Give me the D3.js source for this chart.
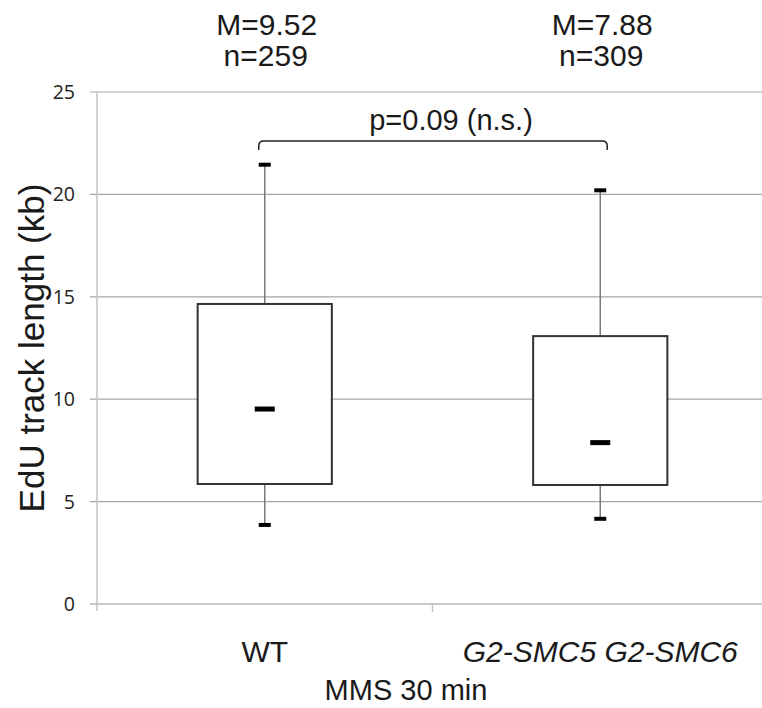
<!DOCTYPE html>
<html>
<head>
<meta charset="utf-8">
<script src="https://cdn.jsdelivr.net/npm/d3@7"></script>
<style>
  body { margin: 0; background: #fff; }
  svg { display: block; }
</style>
</head>
<body>
<div id="chart"></div>
<script>
// chart data
const categories = ['WT', 'G2-SMC5 G2-SMC6'];
const italicCats = [false, true];
const means = [9.52, 7.88];
const counts = [259, 309];
const q1 = [5.86, 5.81];
const q3 = [14.65, 13.08];
const whiskerLow = [3.86, 4.16];
const whiskerHigh = [21.45, 20.2];
const yTicks = [0, 5, 10, 15, 20, 25];
const pLabel = 'p=0.09 (n.s.)';
const xTitle = 'MMS 30 min';
const yTitle = 'EdU track length (kb)';

const width = 762, height = 708;
const margin = {top: 92, right: -6, bottom: 104, left: 97};

let svg = d3.select('#chart').append('svg')
            .attr('width', width)
            .attr('height', height);

let x = d3.scaleBand()
          .domain(categories)
          .range([margin.left, width - margin.right])
          .padding(0);

let y = d3.scaleLinear()
          .domain([0, 25])
          .range([height - margin.bottom, margin.top]);

const sans = 'Liberation Sans, Arial, Helvetica, sans-serif';

// grid lines (with little ticks left of the axis)
svg.append('g')
    .selectAll('line')
    .data(yTicks.filter(d => d > 0))
  .enter().append('line')
    .attr('x1', margin.left - 7)
    .attr('x2', width)
    .attr('y1', d => y(d))
    .attr('y2', d => y(d))
    .attr('stroke', '#a6a6a6')
    .attr('stroke-width', 1.2);

// y axis line
svg.append('line')
    .attr('x1', margin.left).attr('x2', margin.left)
    .attr('y1', y(25)).attr('y2', y(0) + 7)
    .attr('stroke', '#c4c4c4')
    .attr('stroke-width', 1.5);

// x axis line + category ticks
svg.append('line')
    .attr('x1', margin.left - 7).attr('x2', width)
    .attr('y1', y(0)).attr('y2', y(0))
    .attr('stroke', '#c8c8c8')
    .attr('stroke-width', 2);

svg.append('g')
    .selectAll('line')
    .data(categories.slice(1))
  .enter().append('line')
    .attr('x1', d => x(d)).attr('x2', d => x(d))
    .attr('y1', y(0)).attr('y2', y(0) + 8)
    .attr('stroke', '#c4c4c4')
    .attr('stroke-width', 1.5);

// y tick labels
svg.append('g')
    .selectAll('text')
    .data(yTicks)
  .enter().append('text')
    .attr('x', 75)
    .attr('y', d => y(d))
    .attr('dy', '0.36em')
    .attr('text-anchor', 'end')
    .attr('font-family', 'Open Sans, sans-serif')
    .attr('font-size', 19.5)
    .attr('fill', '#222')
    .text(d => d);

// boxes
let boxW = x.bandwidth() * 0.4;
let groups = svg.append('g')
    .selectAll('g')
    .data(categories)
  .enter().append('g');

// whiskers
groups.append('line')
    .attr('x1', d => x(d) + x.bandwidth() / 2)
    .attr('x2', d => x(d) + x.bandwidth() / 2)
    .attr('y1', (d, i) => y(whiskerHigh[i]))
    .attr('y2', (d, i) => y(whiskerLow[i]))
    .attr('stroke', '#7a7a7a')
    .attr('stroke-width', 1.5);

groups.append('rect')
    .attr('x', d => x(d) + (x.bandwidth() - boxW) / 2)
    .attr('y', (d, i) => y(q3[i]))
    .attr('width', boxW)
    .attr('height', (d, i) => y(q1[i]) - y(q3[i]))
    .attr('fill', '#fff')
    .attr('stroke', '#333')
    .attr('stroke-width', 2);

// whisker caps
[whiskerHigh, whiskerLow].forEach((arr) => {
  groups.append('rect')
      .attr('x', d => x(d) + x.bandwidth() / 2 - 6)
      .attr('y', (d, i) => y(arr[i]) - 2)
      .attr('width', 12)
      .attr('height', 4)
      .attr('fill', '#000');
});

// mean markers
groups.append('rect')
    .attr('x', d => x(d) + x.bandwidth() / 2 - 10)
    .attr('y', (d, i) => y(means[i]) - 2.5)
    .attr('width', 20)
    .attr('height', 5)
    .attr('fill', '#000');

// category labels
groups.append('text')
    .attr('x', d => x(d) + x.bandwidth() / 2)
    .attr('y', 662)
    .attr('text-anchor', 'middle')
    .attr('font-family', sans)
    .attr('font-size', 30)
    .attr('font-style', (d, i) => italicCats[i] ? 'italic' : 'normal')
    .attr('fill', '#1a1a1a')
    .text(d => d);

// M / n labels above plot
groups.append('text')
    .attr('x', d => x(d) + x.bandwidth() / 2 + 2)
    .attr('y', 35)
    .attr('text-anchor', 'middle')
    .attr('font-family', sans)
    .attr('font-size', 30)
    .attr('fill', '#1a1a1a')
    .text((d, i) => 'M=' + means[i].toFixed(2));

groups.append('text')
    .attr('x', d => x(d) + x.bandwidth() / 2 + 1)
    .attr('y', 66)
    .attr('text-anchor', 'middle')
    .attr('font-family', sans)
    .attr('font-size', 30)
    .attr('fill', '#1a1a1a')
    .text((d, i) => 'n=' + counts[i]);

// significance bracket
let bx1 = x(categories[0]) + x.bandwidth() / 2 - 6;
let bx2 = x(categories[1]) + x.bandwidth() / 2 + 7;
let by = 141, r = 5;
svg.append('path')
    .attr('d', 'M' + bx1 + ',' + (by + 9) +
               ' L' + bx1 + ',' + (by + r) +
               ' Q' + bx1 + ',' + by + ' ' + (bx1 + r) + ',' + by +
               ' L' + (bx2 - r) + ',' + by +
               ' Q' + bx2 + ',' + by + ' ' + bx2 + ',' + (by + r) +
               ' L' + bx2 + ',' + (by + 9))
    .attr('fill', 'none')
    .attr('stroke', '#222')
    .attr('stroke-width', 1.5);

svg.append('text')
    .attr('x', 451)
    .attr('y', 130)
    .attr('text-anchor', 'middle')
    .attr('font-family', sans)
    .attr('font-size', 29)
    .attr('fill', '#1a1a1a')
    .text(pLabel);

// axis titles
svg.append('text')
    .attr('x', 406)
    .attr('y', 700)
    .attr('text-anchor', 'middle')
    .attr('font-family', sans)
    .attr('font-size', 29)
    .attr('fill', '#1a1a1a')
    .text(xTitle);

svg.append('text')
    .attr('transform', 'translate(44,' + 348 + ') rotate(-90)')
    .attr('text-anchor', 'middle')
    .attr('font-family', sans)
    .attr('font-size', 35)
    .attr('fill', '#1a1a1a')
    .text(yTitle);
</script>
</body>
</html>
